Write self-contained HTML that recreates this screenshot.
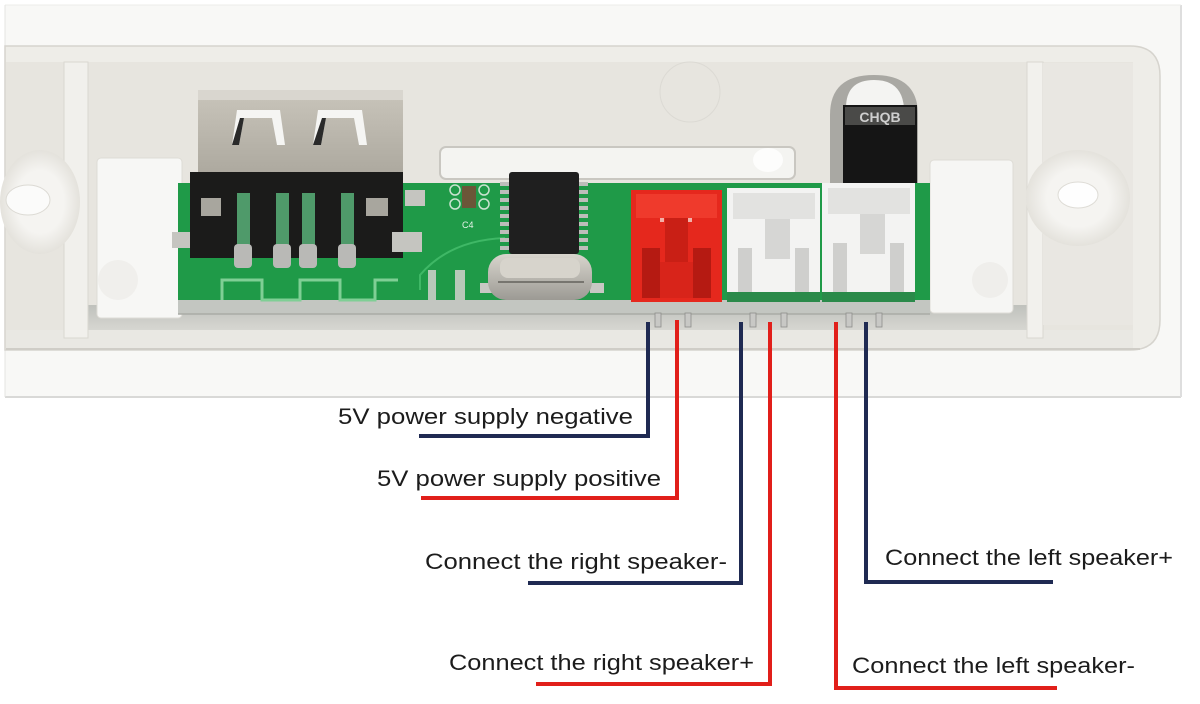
<!DOCTYPE html>
<html><head><meta charset="utf-8">
<style>
html,body{margin:0;padding:0;background:#fff;}
svg{display:block;}
.lbl{font-family:"Liberation Sans",sans-serif;font-size:22px;fill:#1c1c1c;}
</style></head><body>
<svg width="1200" height="704" viewBox="0 0 1200 704" xmlns="http://www.w3.org/2000/svg">
<defs>
 <linearGradient id="floor" x1="0" y1="0" x2="0" y2="1">
  <stop offset="0" stop-color="#bfc1bc"/><stop offset="0.5" stop-color="#d3d3ce"/><stop offset="1" stop-color="#e4e3de"/>
 </linearGradient>
 <linearGradient id="metal" x1="0" y1="0" x2="0" y2="1">
  <stop offset="0" stop-color="#c9c5bb"/><stop offset="1" stop-color="#aaa69c"/>
 </linearGradient>
 <linearGradient id="xtal" x1="0" y1="0" x2="0" y2="1">
  <stop offset="0" stop-color="#d8d5cd"/><stop offset="1" stop-color="#9c9a94"/>
 </linearGradient>
 <radialGradient id="boss" cx="0.5" cy="0.5" r="0.5">
  <stop offset="0.6" stop-color="#f5f4f1"/><stop offset="1" stop-color="#e4e2dc"/>
 </radialGradient>
</defs>
<rect width="1200" height="704" fill="#fff"/>

<!-- photo frame -->
<rect x="5" y="5" width="1176" height="392" fill="#f8f8f6"/>
<line x1="5" y1="397" x2="1181" y2="397" stroke="#d9d9d7" stroke-width="2"/>
<line x1="1181" y1="5" x2="1181" y2="397" stroke="#dedede" stroke-width="2"/>
<line x1="5" y1="5" x2="1181" y2="5" stroke="#ececea" stroke-width="1"/>
<line x1="5" y1="5" x2="5" y2="397" stroke="#e4e4e2" stroke-width="1"/>

<!-- enclosure -->
<path d="M5 46 H1130 Q1160 46 1160 76 V320 Q1160 350 1130 350 H5 Z" fill="#eeede8" stroke="#d6d4ce" stroke-width="1.5"/>
<rect x="6" y="62" width="1127" height="272" fill="#e7e5df"/>
<!-- floor gradient in front of board -->
<rect x="88" y="305" width="940" height="42" fill="url(#floor)"/>
<rect x="6" y="330" width="1127" height="18" fill="#e9e8e3"/>
<line x1="6" y1="349" x2="1140" y2="349" stroke="#cfcdc7" stroke-width="2"/>

<!-- left side -->
<rect x="64" y="62" width="24" height="276" fill="#f1f0ec" stroke="#d9d7d1"/>
<ellipse cx="40" cy="202" rx="40" ry="52" fill="url(#boss)"/>
<ellipse cx="28" cy="200" rx="22" ry="15" fill="#fbfbfa" stroke="#dcdad4"/>
<rect x="97" y="158" width="85" height="160" rx="4" fill="#f7f7f5" stroke="#dedcd6"/>
<circle cx="118" cy="280" r="20" fill="#f0efec"/>

<!-- right side -->
<rect x="1027" y="62" width="16" height="276" fill="#f2f1ed" stroke="#d9d7d1"/>
<rect x="1043" y="63" width="90" height="262" fill="#e9e7e2"/>
<ellipse cx="1078" cy="198" rx="52" ry="48" fill="url(#boss)"/>
<ellipse cx="1078" cy="195" rx="20" ry="13" fill="#fefefe" stroke="#dedcd6"/>
<rect x="930" y="160" width="83" height="153" rx="4" fill="#f6f6f4" stroke="#dedcd6"/>
<circle cx="990" cy="280" r="18" fill="#efeeeb"/>

<!-- faint circle mark -->
<circle cx="690" cy="92" r="30" fill="none" stroke="#dcdad4" stroke-width="1"/>

<!-- slot -->
<rect x="440" y="147" width="355" height="32" rx="6" fill="#f4f4f1" stroke="#c9c7c1" stroke-width="2"/>
<ellipse cx="768" cy="160" rx="15" ry="12" fill="#fdfdfc"/>

<!-- CHQB component -->
<path d="M830 185 V115 Q830 75 874 75 Q918 75 918 115 V185 Z" fill="#a9a8a3"/>
<path d="M846 108 Q846 80 874 80 Q902 80 904 108 Z" fill="#f4f4f2"/>
<rect x="843" y="105" width="74" height="80" fill="#151515"/>
<rect x="845" y="107" width="70" height="18" fill="#4a4a48"/>
<text x="880" y="122" text-anchor="middle" font-family="Liberation Sans,sans-serif" font-size="14" font-weight="bold" fill="#cfcfcf">CHQB</text>

<!-- PCB -->
<rect x="178" y="183" width="752" height="122" fill="#1f9a48"/>
<rect x="178" y="300" width="752" height="14" fill="#c3c6c1"/>
<line x1="178" y1="314" x2="930" y2="314" stroke="#a9aca6" stroke-width="1.5"/>
<!-- antenna meander -->
<polyline points="222,300 222,280 262,280 262,300 300,300 300,280 340,280 340,300 375,300 375,280 398,280" fill="none" stroke="#7fcf95" stroke-width="3"/>
<path d="M420 290 V275 Q450 240 505 238" fill="none" stroke="#3fb866" stroke-width="2"/>
<rect x="455" y="270" width="10" height="30" fill="#b7c9b9"/>
<rect x="428" y="270" width="8" height="30" fill="#b7c9b9"/>

<!-- USB connector -->
<rect x="198" y="90" width="205" height="92" rx="4" fill="url(#metal)"/>
<rect x="198" y="90" width="205" height="10" fill="#d9d6cf"/>
<path d="M232 145 L237 110 H280 L285 145 H277 L272 118 H244 L239 145 Z" fill="#f5f5f3"/>
<path d="M232 145 L239 145 L244 118 L240 118 Z" fill="#2a2a2a"/>
<path d="M313 145 L318 110 H362 L367 145 H359 L354 118 H326 L321 145 Z" fill="#f5f5f3"/>
<path d="M313 145 L321 145 L326 118 L322 118 Z" fill="#2a2a2a"/>
<rect x="190" y="172" width="213" height="86" fill="#1b1b1a"/>
<rect x="201" y="198" width="20" height="18" fill="#a8a69e"/>
<rect x="366" y="198" width="22" height="18" fill="#a8a69e"/>
<rect x="237" y="193" width="13" height="55" fill="#4f9a6a"/>
<rect x="276" y="193" width="13" height="55" fill="#4f9a6a"/>
<rect x="302" y="193" width="13" height="55" fill="#4f9a6a"/>
<rect x="341" y="193" width="13" height="55" fill="#4f9a6a"/>
<rect x="234" y="244" width="18" height="24" rx="4" fill="#b9b9b6"/>
<rect x="273" y="244" width="18" height="24" rx="4" fill="#b9b9b6"/>
<rect x="299" y="244" width="18" height="24" rx="4" fill="#b9b9b6"/>
<rect x="338" y="244" width="18" height="24" rx="4" fill="#b9b9b6"/>
<rect x="405" y="190" width="20" height="16" fill="#c5c5c0"/>
<rect x="392" y="232" width="30" height="20" fill="#c5c5c0"/>
<rect x="172" y="232" width="18" height="16" fill="#c5c5c0"/>

<!-- C4 capacitor -->
<rect x="462" y="186" width="14" height="22" fill="#6b5638"/>
<circle cx="455" cy="190" r="5" fill="none" stroke="#c9e3cf" stroke-width="1.5"/>
<circle cx="484" cy="190" r="5" fill="none" stroke="#c9e3cf" stroke-width="1.5"/>
<circle cx="455" cy="204" r="5" fill="none" stroke="#c9e3cf" stroke-width="1.5"/>
<circle cx="484" cy="204" r="5" fill="none" stroke="#c9e3cf" stroke-width="1.5"/>
<text x="462" y="228" font-family="Liberation Sans,sans-serif" font-size="9" fill="#e6f3e8">C4</text>

<!-- IC -->
<g fill="#bdbdba">
<rect x="500" y="182" width="11" height="4"/><rect x="500" y="190" width="11" height="4"/><rect x="500" y="198" width="11" height="4"/><rect x="500" y="206" width="11" height="4"/><rect x="500" y="214" width="11" height="4"/><rect x="500" y="222" width="11" height="4"/><rect x="500" y="230" width="11" height="4"/><rect x="500" y="238" width="11" height="4"/><rect x="500" y="246" width="11" height="4"/>
<rect x="577" y="182" width="11" height="4"/><rect x="577" y="190" width="11" height="4"/><rect x="577" y="198" width="11" height="4"/><rect x="577" y="206" width="11" height="4"/><rect x="577" y="214" width="11" height="4"/><rect x="577" y="222" width="11" height="4"/><rect x="577" y="230" width="11" height="4"/><rect x="577" y="238" width="11" height="4"/><rect x="577" y="246" width="11" height="4"/>
</g>
<rect x="509" y="172" width="70" height="82" rx="3" fill="#1f1f1f"/>

<!-- crystal -->
<rect x="480" y="283" width="14" height="10" fill="#c8c8c4"/>
<rect x="590" y="283" width="14" height="10" fill="#c8c8c4"/>
<rect x="488" y="254" width="104" height="46" rx="18" fill="url(#xtal)"/>
<rect x="500" y="258" width="80" height="20" rx="8" fill="#d7d4cc"/>
<line x1="498" y1="282" x2="584" y2="282" stroke="#77756f" stroke-width="2"/>

<!-- red connector -->
<rect x="631" y="190" width="91" height="112" fill="#e5281d"/>
<rect x="636" y="194" width="81" height="24" fill="#ef3a2c"/>
<rect x="665" y="218" width="23" height="45" fill="#c91f15"/>
<rect x="642" y="248" width="18" height="50" fill="#b51a12"/>
<rect x="693" y="248" width="18" height="50" fill="#b51a12"/>
<rect x="660" y="262" width="33" height="36" fill="#d8241a"/>
<rect x="660" y="218" width="4" height="4" fill="#f2b0a8"/>
<rect x="688" y="218" width="4" height="4" fill="#f2b0a8"/>

<!-- white connector 1 -->
<rect x="727" y="188" width="93" height="112" fill="#f3f3f2"/>
<rect x="733" y="193" width="82" height="26" fill="#e2e2e0"/>
<rect x="765" y="219" width="25" height="40" fill="#d6d6d4"/>
<rect x="738" y="248" width="14" height="45" fill="#cfcfcd"/>
<rect x="795" y="248" width="14" height="45" fill="#cfcfcd"/>
<rect x="727" y="292" width="93" height="10" fill="#2a8a4a"/>

<!-- white connector 2 -->
<rect x="822" y="183" width="93" height="117" fill="#f3f3f2"/>
<rect x="828" y="188" width="82" height="26" fill="#e2e2e0"/>
<rect x="860" y="214" width="25" height="40" fill="#d6d6d4"/>
<rect x="833" y="243" width="14" height="50" fill="#cfcfcd"/>
<rect x="890" y="243" width="14" height="50" fill="#cfcfcd"/>
<rect x="822" y="292" width="93" height="10" fill="#2a8a4a"/>

<!-- pins under board -->
<g fill="#c8c8c5" stroke="#8e8e8a" stroke-width="0.8">
<rect x="655" y="313" width="6" height="14"/><rect x="685" y="313" width="6" height="14"/>
<rect x="750" y="313" width="6" height="14"/><rect x="781" y="313" width="6" height="14"/>
<rect x="846" y="313" width="6" height="14"/><rect x="876" y="313" width="6" height="14"/>
</g>

<!-- connector lines -->
<g fill="none" stroke-width="4" stroke-linecap="butt">
 <polyline points="648,322 648,436 419,436" stroke="#1f2a52"/>
 <polyline points="677,320 677,498 421,498" stroke="#e11f1a"/>
 <polyline points="741,322 741,583 528,583" stroke="#1f2a52"/>
 <polyline points="770,322 770,684 536,684" stroke="#e11f1a"/>
 <polyline points="836,322 836,688 1057,688" stroke="#e11f1a"/>
 <polyline points="866,322 866,582 1053,582" stroke="#1f2a52"/>
</g>

<!-- labels -->
<text class="lbl" x="338" y="424" textLength="295" lengthAdjust="spacingAndGlyphs">5V power supply negative</text>
<text class="lbl" x="377" y="486" textLength="284" lengthAdjust="spacingAndGlyphs">5V power supply positive</text>
<text class="lbl" x="425" y="569" textLength="302" lengthAdjust="spacingAndGlyphs">Connect the right speaker-</text>
<text class="lbl" x="449" y="670" textLength="305" lengthAdjust="spacingAndGlyphs">Connect the right speaker+</text>
<text class="lbl" x="885" y="565" textLength="288" lengthAdjust="spacingAndGlyphs">Connect the left speaker+</text>
<text class="lbl" x="852" y="673" textLength="283" lengthAdjust="spacingAndGlyphs">Connect the left speaker-</text>
</svg>
</body></html>
